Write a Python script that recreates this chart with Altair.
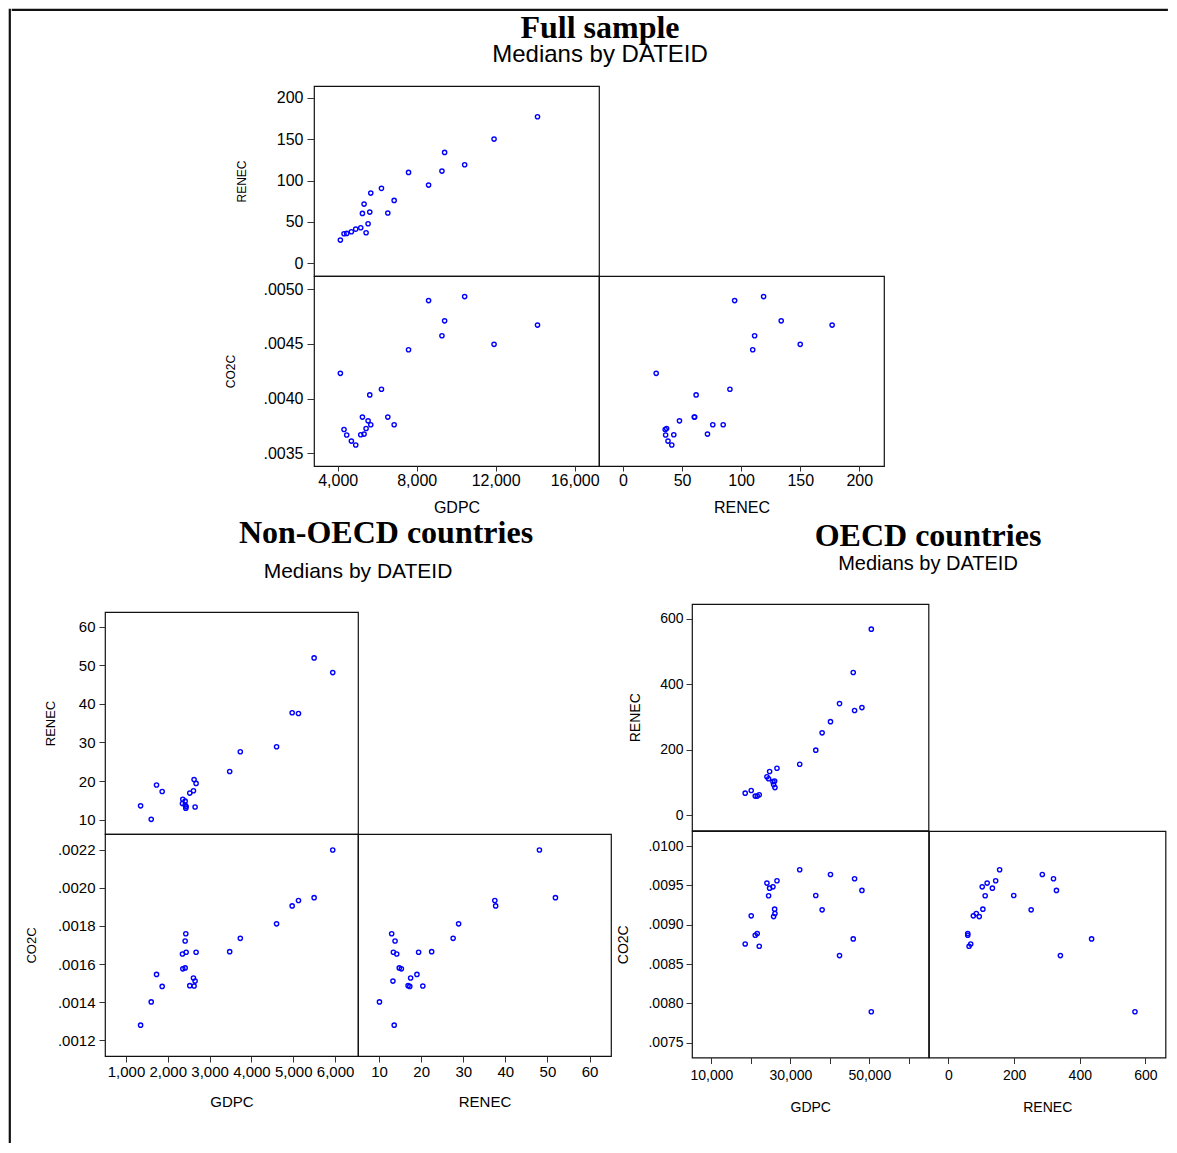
import altair as alt
import pandas as pd

# ---------------- data (medians by DATEID) ----------------
FULL_GDPC = [14120, 11920, 9416, 10431, 9281, 7589, 8604, 6218, 5677, 6861, 5338,
             5254, 5626, 6540, 5541, 5169, 4915, 4695, 4458, 4323, 5440, 4137]
FULL_RENEC = [177.0, 150.0, 133.9, 119.0, 111.4, 109.8, 94.5, 90.5, 84.8, 76.0, 71.5,
              60.3, 61.9, 60.7, 47.8, 43.0, 41.3, 38.1, 36.1, 35.7, 36.9, 28.1]
FULL_CO2C = [0.004672, 0.004496, 0.004711, 0.004933, 0.004575, 0.004447, 0.004896,
             0.004086, 0.003761, 0.003761, 0.003676, 0.003831, 0.004034, 0.003831,
             0.003797, 0.003670, 0.003576, 0.003612, 0.003667, 0.003718, 0.003727, 0.004231]

NON_GDPC = [5944, 5499, 5125, 4974, 4601, 3734, 3480, 2431, 2415, 2439, 2677,
            2351, 2415, 2359, 1731, 2614, 2653, 2526, 2629, 1866, 1604, 1350]
NON_RENEC = [48.1, 51.9, 37.5, 37.7, 28.9, 27.6, 22.5, 13.0, 13.8, 13.4, 19.4,
             14.2, 14.8, 15.3, 19.0, 17.5, 13.3, 16.9, 20.4, 17.3, 10.1, 13.6]
NON_CO2C = [0.002198, 0.001948, 0.001933, 0.001905, 0.001811, 0.001735, 0.001665,
            0.001759, 0.001721, 0.001662, 0.001662, 0.001653, 0.001580, 0.001575,
            0.001546, 0.001527, 0.001511, 0.001487, 0.001485, 0.001483, 0.001402, 0.001280]

OECD_GDPC = [50511, 45935, 42460, 46274, 48138, 40172, 38053, 36443, 32375, 26612, 24747,
             24069, 24493, 25595, 26018, 25764, 26103, 20086, 18560, 21103, 21611, 22120]
OECD_RENEC = [568, 436, 341, 320, 329, 286, 252, 199, 156, 144, 134,
              118, 112, 103, 105, 94, 85, 76, 68, 59, 59, 63]
OECD_CO2C = [0.007895, 0.008820, 0.008608, 0.009584, 0.009436, 0.009639, 0.009189,
             0.009372, 0.009699, 0.009559, 0.009465, 0.009529, 0.009368, 0.009482,
             0.009198, 0.009104, 0.009143, 0.009113, 0.008756, 0.008867, 0.008888, 0.008727]

# tick values
FULL_GDPC_TICKS = [4000, 8000, 12000, 16000]
FULL_RENEC_TICKS = [0, 50, 100, 150, 200]
FULL_CO2C_TICKS = [0.0035, 0.0040, 0.0045, 0.0050]
NON_GDPC_TICKS = [1000, 2000, 3000, 4000, 5000, 6000]
NON_RENEC_TICKS = [10, 20, 30, 40, 50, 60]
NON_CO2C_TICKS = [0.0012, 0.0014, 0.0016, 0.0018, 0.0020, 0.0022]
OECD_GDPC_TICKS = [10000, 20000, 30000, 40000, 50000, 60000]
OECD_RENEC_TICKS = [0, 200, 400, 600]
OECD_CO2C_TICKS = [0.0075, 0.0080, 0.0085, 0.0090, 0.0095, 0.0100]

full_df = pd.DataFrame({"GDPC": FULL_GDPC, "RENEC": FULL_RENEC, "CO2C": FULL_CO2C})
non_df = pd.DataFrame({"GDPC": NON_GDPC, "RENEC": NON_RENEC, "CO2C": NON_CO2C})
oecd_df = pd.DataFrame({"GDPC": OECD_GDPC, "RENEC": OECD_RENEC, "CO2C": OECD_CO2C})

SANS = "Liberation Sans"
SERIF = "Liberation Serif"
BLUE = "#0000ff"
FRAME = alt.ViewBackground(stroke="#111111", strokeWidth=1.2)
CO2EXPR = "replace(format(datum.value, '.4f'), '0.', '.')"


def make_axis(values, fs, tick, lpad, title, tfs, tpad, fmt=None, expr=None):
    kw = dict(values=values, labelFont=SANS, labelFontSize=fs, labelColor="black",
              labelPadding=lpad, labelOverlap=False, labelFlush=False,
              tickSize=tick, tickColor="#333333", tickWidth=1, domain=False, grid=False,
              title=title, titleFont=SANS, titleFontSize=tfs, titleFontWeight="normal",
              titleColor="black", titlePadding=tpad)
    if fmt is not None:
        kw["format"] = fmt
    if expr is not None:
        kw["labelExpr"] = expr
    return alt.Axis(**kw)


def panel(df, xf, yf, xdom, ydom, w, h, xaxis, yaxis, title=None):
    base = alt.Chart(df, title=title) if title is not None else alt.Chart(df)
    return base.mark_point(shape="circle", filled=False, size=18, strokeWidth=1.4,
                           color=BLUE, opacity=1).encode(
        x=alt.X(f"{xf}:Q", scale=alt.Scale(domain=xdom, nice=False, zero=False), axis=xaxis),
        y=alt.Y(f"{yf}:Q", scale=alt.Scale(domain=ydom, nice=False, zero=False), axis=yaxis),
    ).properties(width=w, height=h, view=FRAME)


def spacer(df, w, h, stroke="transparent", sw=1, title=None):
    base = alt.Chart(df, title=title) if title is not None else alt.Chart(df)
    return base.mark_point(size=0, opacity=0).encode(
        x=alt.X("GDPC:Q", axis=None, scale=alt.Scale(zero=False)),
        y=alt.Y("CO2C:Q", axis=None, scale=alt.Scale(zero=False)),
    ).properties(width=w, height=h, view=alt.ViewBackground(stroke=stroke, strokeWidth=sw))


def block_title(text, sfs, dx, offset, spad):
    return alt.TitleParams(text=text, subtitle="Medians by DATEID", font=SERIF, fontSize=32,
                           fontWeight="bold", color="black", subtitleFont=SANS,
                           subtitleFontSize=sfs, subtitleColor="black",
                           subtitleFontWeight="normal", anchor="middle", frame="group",
                           dx=dx, offset=offset, subtitlePadding=spad)


def block(df, left, h0, top, bl, br, c01_title=None):
    cells = [spacer(df, left, h0), spacer(df, 1, 1, title=c01_title), spacer(df, 1, 1),
             spacer(df, 1, 1), top, spacer(df, 1, 1),
             spacer(df, 1, 1), bl, br]
    return alt.concat(*cells, columns=3, spacing=0, bounds="flush", align="each")


# ---------------- Full sample ----------------
FW, FH = 285, 190
F_GD = [2802, 17234]
F_RY = [-15.3, 214.1]
F_CO = [0.003384, 0.005121]
F_RX = [-20.3, 220.9]
full_top = panel(full_df, "GDPC", "RENEC", F_GD, F_RY, FW, FH, None,
                 make_axis(FULL_RENEC_TICKS, 16, 7, 4, "RENEC", 12, 27.5),
                 title=block_title("Full sample", 24, 143.5, 17.9, -1.5))
full_bl = panel(full_df, "GDPC", "CO2C", F_GD, F_CO, FW, FH,
                make_axis(FULL_GDPC_TICKS, 16, 5, 1, "GDPC", 16, 11, fmt=",d"),
                make_axis(FULL_CO2C_TICKS, 16, 7, 4, "CO2C", 12, 25.2, expr=CO2EXPR))
full_br = panel(full_df, "RENEC", "CO2C", F_RX, F_CO, FW, FH,
                make_axis(FULL_RENEC_TICKS, 16, 5, 1, "RENEC", 16, 11), None)
full_block = block(full_df, 301.7, 72.3, full_top, full_bl, full_br)

# ---------------- Non-OECD ----------------
NW, NH = 253, 222
N_GD = [499, 6548]
N_RY = [6.3, 63.8]
N_CO = [0.0011185, 0.0022816]
N_RX = [5.0, 65.1]
non_sub = alt.TitleParams(text="Medians by DATEID", font=SANS, fontSize=21,
                          fontWeight="normal", color="black", anchor="middle",
                          frame="group", dx=126.5, offset=30)
non_main = alt.TitleParams(text="Non-OECD countries", font=SERIF, fontSize=32,
                           fontWeight="bold", color="black", anchor="middle",
                           frame="group", orient="bottom", dx=280.5, offset=0)
non_top = panel(non_df, "GDPC", "RENEC", N_GD, N_RY, NW, NH, None,
                make_axis(NON_RENEC_TICKS, 15, 6, 4, "RENEC", 13, 20.9), title=non_sub)
non_bl = panel(non_df, "GDPC", "CO2C", N_GD, N_CO, NW, NH,
               make_axis(NON_GDPC_TICKS, 15, 6, 2, "GDPC", 15, 15, fmt=",d"),
               make_axis(NON_CO2C_TICKS, 15, 6, 4, "CO2C", 13, 19.1, expr=CO2EXPR))
non_br = panel(non_df, "RENEC", "CO2C", N_RX, N_CO, NW, NH,
               make_axis(NON_RENEC_TICKS, 15, 6, 2, "RENEC", 15, 15), None)
non_block = block(non_df, 92.2, 95, non_top, non_bl, non_br, c01_title=non_main)

# ---------------- OECD ----------------
OW, OH = 236.5, 226.5
O_GD = [5085, 65003]
O_RY = [-45.9, 644.8]
O_CO = [0.0073133, 0.010191]
O_RX = [-59, 661]
oecd_top = panel(oecd_df, "GDPC", "RENEC", O_GD, O_RY, OW, OH, None,
                 make_axis(OECD_RENEC_TICKS, 14, 6, 3, "RENEC", 14, 17.6),
                 title=block_title("OECD countries", 20, 117.75, 28.8, 1.6))
oecd_bl = panel(oecd_df, "GDPC", "CO2C", O_GD, O_CO, OW, OH,
                make_axis(OECD_GDPC_TICKS, 14, 6, 5, "GDPC", 14, 18,
                          expr="datum.value % 20000 == 10000 ? format(datum.value, ',') : ''"),
                make_axis(OECD_CO2C_TICKS, 14, 6, 3, "CO2C", 14, 17, expr=CO2EXPR))
oecd_br = panel(oecd_df, "RENEC", "CO2C", O_RX, O_CO, OW, OH,
                make_axis(OECD_RENEC_TICKS, 14, 6, 5, "RENEC", 14, 18), None)
oecd_block = block(oecd_df, 78.9, 86.5, oecd_top, oecd_bl, oecd_br)

# ---------------- page layout ----------------
hline = spacer(full_df, 1155, 1, stroke="#111111", sw=1.2)
row2 = alt.hconcat(non_block, oecd_block, spacing=0)
body = alt.vconcat(hline, full_block, row2, spacing=0)
vline = spacer(full_df, 1, 1133, stroke="#111111", sw=1.2)

chart = alt.hconcat(vline, body, spacing=0).properties(
    padding=0, background="white"
).configure_view(stroke="transparent")

chart.save("out.html", embed_options={"renderer": "svg", "actions": False})
